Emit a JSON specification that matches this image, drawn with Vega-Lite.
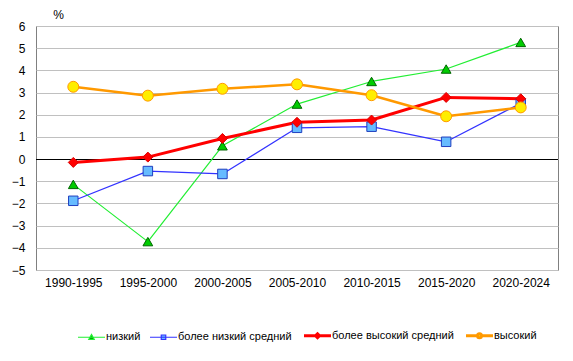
{
  "$schema": "https://vega.github.io/schema/vega-lite/v6.json",
  "width": 522,
  "height": 244,
  "autosize": {"type": "none"},
  "padding": {"left": 36, "top": 26, "right": 15, "bottom": 91},
  "background": "white",
  "config": {
    "font": "Liberation Sans",
    "view": {"stroke": "#808080", "strokeWidth": 1},
    "axis": {"labelFont": "Liberation Sans", "labelFontSize": 12, "labelColor": "#000000", "titleFont": "Liberation Sans"},
    "legend": {"labelFont": "Liberation Sans", "labelFontSize": 11, "labelColor": "#000000"}
  },
  "data": {
    "values": [
      {"period": "1990-1995", "series": "низкий", "value": -1.14},
      {"period": "1995-2000", "series": "низкий", "value": -3.72},
      {"period": "2000-2005", "series": "низкий", "value": 0.6},
      {"period": "2005-2010", "series": "низкий", "value": 2.48},
      {"period": "2010-2015", "series": "низкий", "value": 3.5},
      {"period": "2015-2020", "series": "низкий", "value": 4.06},
      {"period": "2020-2024", "series": "низкий", "value": 5.26},
      {"period": "1990-1995", "series": "более низкий средний", "value": -1.88},
      {"period": "1995-2000", "series": "более низкий средний", "value": -0.54},
      {"period": "2000-2005", "series": "более низкий средний", "value": -0.67},
      {"period": "2005-2010", "series": "более низкий средний", "value": 1.41},
      {"period": "2010-2015", "series": "более низкий средний", "value": 1.46},
      {"period": "2015-2020", "series": "более низкий средний", "value": 0.78},
      {"period": "2020-2024", "series": "более низкий средний", "value": 2.52},
      {"period": "1990-1995", "series": "более высокий средний", "value": -0.15},
      {"period": "1995-2000", "series": "более высокий средний", "value": 0.09},
      {"period": "2000-2005", "series": "более высокий средний", "value": 0.93},
      {"period": "2005-2010", "series": "более высокий средний", "value": 1.66},
      {"period": "2010-2015", "series": "более высокий средний", "value": 1.76},
      {"period": "2015-2020", "series": "более высокий средний", "value": 2.78},
      {"period": "2020-2024", "series": "более высокий средний", "value": 2.72},
      {"period": "1990-1995", "series": "высокий", "value": 3.26},
      {"period": "1995-2000", "series": "высокий", "value": 2.86},
      {"period": "2000-2005", "series": "высокий", "value": 3.17},
      {"period": "2005-2010", "series": "высокий", "value": 3.37},
      {"period": "2010-2015", "series": "высокий", "value": 2.88},
      {"period": "2015-2020", "series": "высокий", "value": 1.93},
      {"period": "2020-2024", "series": "высокий", "value": 2.33}
    ]
  },
  "encoding": {
    "x": {
      "field": "period", "type": "ordinal",
      "scale": {"type": "point", "padding": 0.5},
      "axis": {"title": null, "labelAngle": 0, "ticks": false, "domain": false, "grid": false, "labelPadding": 7}
    },
    "y": {
      "field": "value", "type": "quantitative",
      "scale": {"domain": [-5, 6], "nice": false, "zero": false},
      "axis": {
        "values": [-5, -4, -3, -2, -1, 0, 1, 2, 3, 4, 5, 6],
        "ticks": false, "domain": false, "grid": true, "gridColor": "#c0c0c0", "gridWidth": 1,
        "labelPadding": 11,
        "title": "%", "titleAngle": 0, "titleX": 22, "titleY": -12, "titleAlign": "center",
        "titleFontSize": 12, "titleFontWeight": "normal", "titleColor": "#000000", "titleBaseline": "middle"
      }
    }
  },
  "resolve": {"scale": {"stroke": "independent"}},
  "layer": [
    {
      "mark": {"type": "rule", "color": "#000000", "strokeWidth": 1, "yOffset": 0.41},
      "encoding": {"y": {"datum": 0}, "x": null}
    },
    {
      "mark": {"type": "line", "strokeJoin": "round"},
      "encoding": {
        "detail": {"field": "series"},
        "stroke": {
          "field": "series", "type": "nominal",
          "scale": {
            "domain": ["низкий", "более низкий средний", "более высокий средний", "высокий"],
            "range": ["#22ee33", "#3333ff", "#ff0000", "#ff9900"]
          },
          "legend": {
            "title": null, "orient": "none", "legendX": 50, "legendY": 304, "direction": "horizontal",
            "symbolSize": 100, "symbolStrokeWidth": 2, "columnPadding": 6, "labelOffset": 9,
            "encode": {
              "symbols": {
                "update": {
                  "shape": {"signal": "datum.value === 'низкий' ? 'M-2.7,0H2.7M-0.55,0.45L0,-0.55L0.55,0.45Z' : datum.value === 'более низкий средний' ? 'M-2.7,0H2.7M-0.45,-0.45H0.45V0.45H-0.45Z' : datum.value === 'более высокий средний' ? 'M-2.7,0H2.7M0,-0.4L0.4,0L0,0.4L-0.4,0Z' : 'M-2.7,0H-0.4M0.4,0H2.7M-0.4,0A0.4,0.4,0,1,1,0.4,0A0.4,0.4,0,1,1,-0.4,0Z'"},
                  "fill": {"signal": "datum.value === 'низкий' ? '#00b000' : datum.value === 'более низкий средний' ? '#66bbff' : datum.value === 'более высокий средний' ? '#ff0000' : '#ffee00'"},
                  "fillOpacity": {"value": 1},
                  "strokeWidth": {"signal": "datum.value === 'более высокий средний' || datum.value === 'высокий' ? 3 : 1.2"}
                }
              }
            }
          }
        },
        "strokeWidth": {
          "field": "series", "type": "ordinal",
          "scale": {
            "type": "ordinal",
            "domain": ["низкий", "более низкий средний", "более высокий средний", "высокий"],
            "range": [1.2, 1.2, 3, 2.5]
          },
          "legend": null
        }
      }
    },
    {
      "mark": {"type": "point", "filled": true, "opacity": 1, "strokeWidth": 1},
      "encoding": {
        "shape": {
          "field": "series", "type": "nominal",
          "scale": {
            "domain": ["низкий", "более низкий средний", "более высокий средний", "высокий"],
            "range": ["triangle-up", "square", "diamond", "circle"]
          },
          "legend": null
        },
        "fill": {
          "field": "series", "type": "nominal",
          "scale": {
            "domain": ["низкий", "более низкий средний", "более высокий средний", "высокий"],
            "range": ["#00cc00", "#66bbff", "#ff0000", "#ffee00"]
          },
          "legend": null
        },
        "stroke": {
          "field": "series", "type": "nominal",
          "scale": {
            "domain": ["низкий", "более низкий средний", "более высокий средний", "высокий"],
            "range": ["#006600", "#1f3fbf", "#dd0000", "#ff9900"]
          },
          "legend": null
        },
        "size": {
          "field": "series", "type": "ordinal",
          "scale": {
            "type": "ordinal",
            "domain": ["низкий", "более низкий средний", "более высокий средний", "высокий"],
            "range": [95, 90, 100, 120]
          },
          "legend": null
        }
      }
    }
  ]
}
